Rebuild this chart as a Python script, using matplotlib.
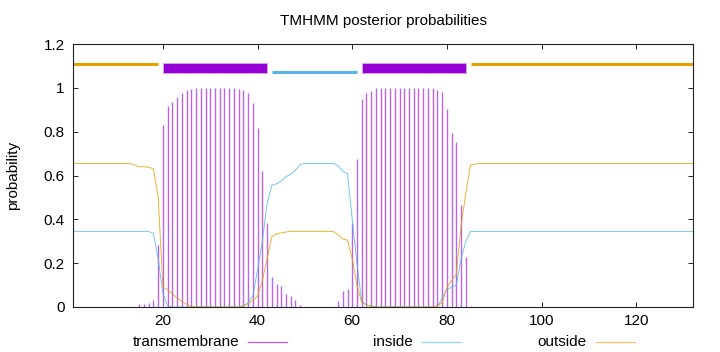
import matplotlib
matplotlib.use("Agg")
import matplotlib.pyplot as plt
from matplotlib.lines import Line2D
from matplotlib.patches import Rectangle
import numpy as np

plt.rcParams['font.family'] = ['Liberation Sans', 'DejaVu Sans']

seq_len = 132
positions = list(range(1, seq_len + 1))

# posterior probability of transmembrane (impulses), per position 1..132
tm_prob = ([0.0] * 14 +
           [0.012, 0.013, 0.017, 0.032, 0.283, 0.83, 0.915, 0.935, 0.96, 0.976,
            0.988, 0.996, 0.999, 1.0, 1.0, 1.0, 1.0, 1.0, 1.0, 1.0,
            0.999, 0.996, 0.988, 0.976, 0.93, 0.819, 0.621, 0.382, 0.137, 0.107,
            0.094, 0.061, 0.049, 0.03, 0.008] +
           [0.0] * 7 +
           [0.028, 0.074, 0.084, 0.382, 0.676, 0.948, 0.975, 0.985, 0.997, 1.0,
            1.0, 1.0, 1.0, 1.0, 1.0, 1.0, 1.0, 1.0, 1.0, 1.0,
            0.997, 0.99, 0.98, 0.903, 0.793, 0.753, 0.464, 0.228, 0.004] +
           [0.0] * 47)

inside_prob = ([0.345] * 17 +
               [0.335, 0.22, 0.06, 0.005] +
               [0.0] * 15 +
               [0.005, 0.02, 0.05, 0.17, 0.30, 0.47, 0.555, 0.562, 0.575, 0.595,
                0.605, 0.625, 0.65] +
               [0.655] * 7 +
               [0.645, 0.618, 0.61, 0.40, 0.2, 0.025, 0.01, 0.003] +
               [0.0] * 14 +
               [0.04, 0.08, 0.09, 0.10, 0.22, 0.30] +
               [0.345] * 48)

outside_prob = ([0.655] * 13 +
                [0.648, 0.64, 0.64, 0.638, 0.63, 0.50, 0.09, 0.08, 0.06, 0.04, 0.025,
                 0.012, 0.003] +
                [0.0] * 10 +
                [0.005, 0.015, 0.03, 0.05, 0.12, 0.22, 0.32, 0.333, 0.338, 0.342] +
                [0.345] * 10 +
                [0.33, 0.31, 0.305, 0.22, 0.1, 0.02, 0.01, 0.004] +
                [0.0] * 13 +
                [0.005, 0.02, 0.09, 0.12, 0.15, 0.37, 0.52, 0.648, 0.652] +
                [0.655] * 46)

# predicted topology segments (start, end, kind)
seg_start = [1, 20, 43, 62, 85]
seg_end = [19, 42, 61, 84, 132]
seg_kind = ['outside', 'TMhelix', 'inside', 'TMhelix', 'outside']

c_tm = '#9400d3'
c_in = '#56b4e9'
c_out = '#e69f00'

fig = plt.figure(figsize=(7.2, 3.52), dpi=100)
ax = fig.add_axes([73 / 720, 45 / 352, 620 / 720, 263 / 352])

ax.vlines(positions, 0, tm_prob, color='#b966e6', linewidth=1.0)
ax.plot(positions, inside_prob, color=c_in, linewidth=0.7, alpha=0.8)
ax.plot(positions, outside_prob, color=c_out, linewidth=0.7, alpha=0.8)

for s, e, k in zip(seg_start, seg_end, seg_kind):
    if k == 'outside':
        ax.plot([s, e], [1.11, 1.11], color=c_out, linewidth=2.2, solid_capstyle='butt')
    elif k == 'inside':
        ax.plot([s, e], [1.072, 1.072], color=c_in, linewidth=2.2, solid_capstyle='butt')
    else:
        ax.add_patch(Rectangle((s, 1.068), e - s, 0.044, facecolor=c_tm,
                               edgecolor='#d9a6f0', linewidth=0.6))

ax.set_xlim(1, seq_len)
ax.set_ylim(0, 1.2)
ax.set_xticks([20, 40, 60, 80, 100, 120])
ax.set_yticks([0, 0.2, 0.4, 0.6, 0.8, 1.0, 1.2])
ax.set_yticklabels(['0', '0.2', '0.4', '0.6', '0.8', '1', '1.2'])
ax.tick_params(direction='in', length=3.5, width=0.6, top=True, right=True,
               labelsize=11, pad=6, colors='#000000')
ax.tick_params(axis='x', pad=5)
for sp in ax.spines.values():
    sp.set_linewidth(0.8)
    sp.set_color('#222222')

ax.set_ylabel('probability', fontsize=11, labelpad=17)
fig.text(383.5 / 720, 1 - 21 / 352, 'TMHMM posterior probabilities',
         ha='center', va='center', fontsize=11)

# legend drawn in gnuplot style: label then sample line
leg_labels = ['transmembrane', 'inside', 'outside']
leg_colors = ['#b966e6', '#9fd3ef', '#f0c46e']
leg_text_right = [239, 413, 587]
leg_y = 1 - 341.5 / 352
for lab, col, xr in zip(leg_labels, leg_colors, leg_text_right):
    fig.text(xr / 720, leg_y, lab, ha='right', va='center', fontsize=11)
    fig.add_artist(Line2D([(xr + 9) / 720, (xr + 48) / 720], [leg_y, leg_y],
                          color=col, linewidth=1.0))

fig.savefig('out.png', dpi=100)
